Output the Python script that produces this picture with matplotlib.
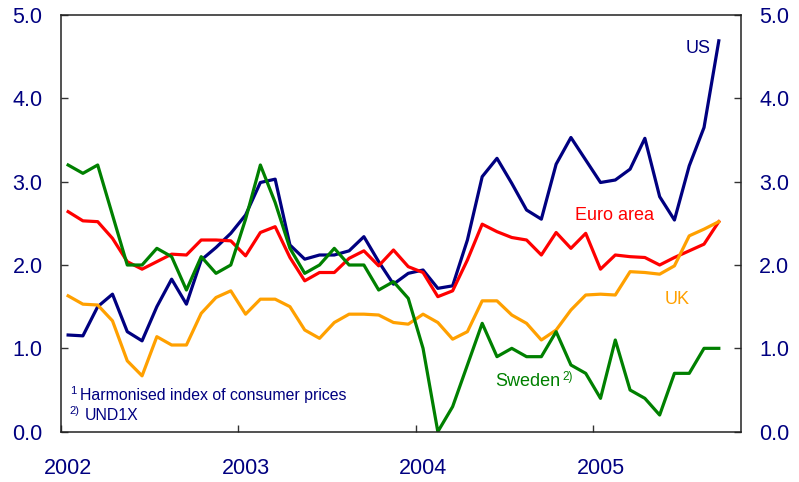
"""Inflation in the US, euro area, UK and Sweden, annual % change, 2002-2005."""
import numpy as np
import matplotlib
matplotlib.use("Agg")
import matplotlib.pyplot as plt

plt.rcParams["font.family"] = ["Liberation Sans", "DejaVu Sans"]

NAVY, RED, ORANGE, GREEN = "#000080", "#ff0000", "#ffa000", "#008000"

# ---- data: monthly, Jan 2002 .. Sep 2005 ----
us = [1.16, 1.15, 1.50, 1.65, 1.20, 1.09, 1.50, 1.83, 1.53, 2.06, 2.21, 2.38,
      2.60, 2.99, 3.03, 2.24, 2.07, 2.12, 2.12, 2.17, 2.34, 2.04, 1.77, 1.90,
      1.94, 1.72, 1.75, 2.30, 3.06, 3.28, 2.98, 2.66, 2.55, 3.21, 3.53, 3.26,
      2.99, 3.02, 3.15, 3.52, 2.82, 2.54, 3.19, 3.65, 4.69]
euro = [2.64, 2.53, 2.52, 2.32, 2.04, 1.95, 2.04, 2.13, 2.12, 2.30, 2.30, 2.29,
        2.11, 2.39, 2.46, 2.09, 1.81, 1.91, 1.91, 2.08, 2.17, 1.99, 2.18, 1.98,
        1.91, 1.62, 1.69, 2.06, 2.49, 2.40, 2.33, 2.30, 2.12, 2.39, 2.20, 2.38,
        1.95, 2.12, 2.10, 2.09, 2.00, 2.09, 2.17, 2.25, 2.52]
uk = [1.63, 1.53, 1.52, 1.33, 0.85, 0.67, 1.14, 1.04, 1.04, 1.42, 1.61, 1.69,
      1.41, 1.59, 1.59, 1.50, 1.22, 1.12, 1.31, 1.41, 1.41, 1.40, 1.31, 1.29,
      1.41, 1.31, 1.11, 1.20, 1.57, 1.57, 1.40, 1.30, 1.10, 1.22, 1.46, 1.64,
      1.65, 1.64, 1.92, 1.91, 1.89, 1.99, 2.35, 2.43, 2.52]
sweden = [3.2, 3.1, 3.2, 2.6, 2.0, 2.0, 2.2, 2.1, 1.7, 2.1, 1.9, 2.0,
          2.55, 3.2, 2.75, 2.2, 1.9, 2.0, 2.2, 2.0, 2.0, 1.7, 1.8, 1.6,
          1.0, 0.0, 0.3, 0.8, 1.3, 0.9, 1.0, 0.9, 0.9, 1.2, 0.8, 0.7,
          0.4, 1.1, 0.5, 0.4, 0.2, 0.7, 0.7, 1.0, 1.0]
years = [2002, 2003, 2004, 2005]
yticks = [0.0, 1.0, 2.0, 3.0, 4.0, 5.0]

# months since Jan 2002, points at mid-month
x = np.arange(len(us)) + 0.5

fig = plt.figure(figsize=(7.99, 4.82), dpi=100)
ax = fig.add_axes([0.076, 0.1044, 0.8514, 0.8645])

lw = 2.3
ax.plot(x, us, color=NAVY, lw=lw)
ax.plot(x, euro, color=RED, lw=lw)
ax.plot(x, uk, color=ORANGE, lw=lw)
ax.plot(x, sweden, color=GREEN, lw=lw)

ax.set_xlim(0, 46)
ax.set_ylim(0, 5)

# year ticks at year start, labels centred half a month later
ax.set_xticks([12 * (y - 2002) for y in years])
ax.set_xticklabels([])
ax.set_xticks([12 * (y - 2002) + 0.5 for y in years], minor=True)
ax.set_xticklabels([str(y) for y in years], minor=True)
ax.tick_params(axis="x", which="major", direction="in", length=5, width=1,
               color="#333333")
ax.tick_params(axis="x", which="minor", length=0, pad=19, labelsize=15.5,
               labelcolor=NAVY)

ax.set_yticks(yticks)
ax.set_yticklabels([f"{v:.1f}" for v in yticks])
ax.tick_params(axis="y", direction="in", length=5, width=1, color="#333333",
               left=True, right=True, labelleft=True, labelright=True,
               pad=13, labelsize=15.5, labelcolor=NAVY)
for s in ax.spines.values():
    s.set_linewidth(1.1)
    s.set_color("#222222")

# series labels
ax.text(43.1, 4.60, "US", color=NAVY, fontsize=13, ha="center", va="center")
ax.text(37.48, 2.59, "Euro area", color=RED, fontsize=13, ha="center", va="center")
ax.text(41.67, 1.59, "UK", color=ORANGE, fontsize=13, ha="center", va="center")
ax.text(29.36, 0.60, "Sweden", color=GREEN, fontsize=13, ha="left", va="center")
ax.text(33.9, 0.655, "2)", color=GREEN, fontsize=8.5, ha="left", va="center")

# footnotes
ax.text(0.62, 0.49, "1", color=NAVY, fontsize=8, ha="left", va="center")
ax.text(1.30, 0.432, "Harmonised index of consumer prices", color=NAVY,
        fontsize=11.4, ha="left", va="center")
ax.text(0.62, 0.25, "2)", color=NAVY, fontsize=8, ha="left", va="center")
ax.text(1.64, 0.19, "UND1X", color=NAVY, fontsize=11.4, ha="left", va="center")

fig.savefig("out.png", dpi=100)
